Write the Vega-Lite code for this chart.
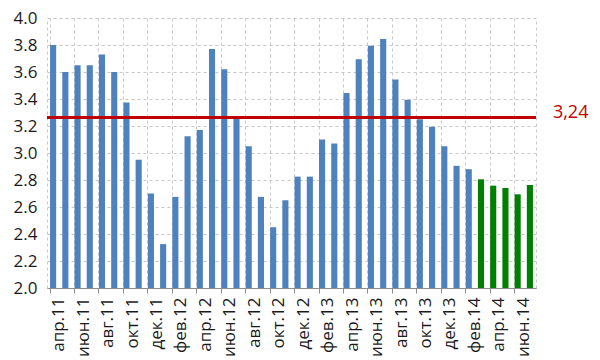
{
  "$schema": "https://vega.github.io/schema/vega-lite/v6.json",
  "width": 489,
  "height": 270,
  "autosize": {"type": "none"},
  "padding": {"left": 47, "top": 18, "right": 64, "bottom": 72},
  "background": "white",
  "config": {
    "font": "Open Sans",
    "view": {"stroke": "#C8C8C8", "strokeDash": [3, 3], "strokeWidth": 1},
    "axis": {"gridColor": "#C8C8C8", "gridDash": [3, 3], "gridWidth": 1, "labelColor": "#1A1A1A", "labelFont": "Open Sans", "labelOverlap": false}
  },
  "data": {
    "values": [
      {"month": "апр.11", "value": 3.80, "kind": "факт"},
      {"month": "май.11", "value": 3.60, "kind": "факт"},
      {"month": "июн.11", "value": 3.65, "kind": "факт"},
      {"month": "июл.11", "value": 3.65, "kind": "факт"},
      {"month": "авг.11", "value": 3.73, "kind": "факт"},
      {"month": "сен.11", "value": 3.60, "kind": "факт"},
      {"month": "окт.11", "value": 3.375, "kind": "факт"},
      {"month": "ноя.11", "value": 2.95, "kind": "факт"},
      {"month": "дек.11", "value": 2.70, "kind": "факт"},
      {"month": "янв.12", "value": 2.325, "kind": "факт"},
      {"month": "фев.12", "value": 2.675, "kind": "факт"},
      {"month": "мар.12", "value": 3.125, "kind": "факт"},
      {"month": "апр.12", "value": 3.17, "kind": "факт"},
      {"month": "май.12", "value": 3.77, "kind": "факт"},
      {"month": "июн.12", "value": 3.62, "kind": "факт"},
      {"month": "июл.12", "value": 3.26, "kind": "факт"},
      {"month": "авг.12", "value": 3.05, "kind": "факт"},
      {"month": "сен.12", "value": 2.675, "kind": "факт"},
      {"month": "окт.12", "value": 2.45, "kind": "факт"},
      {"month": "ноя.12", "value": 2.65, "kind": "факт"},
      {"month": "дек.12", "value": 2.825, "kind": "факт"},
      {"month": "янв.13", "value": 2.825, "kind": "факт"},
      {"month": "фев.13", "value": 3.10, "kind": "факт"},
      {"month": "мар.13", "value": 3.07, "kind": "факт"},
      {"month": "апр.13", "value": 3.445, "kind": "факт"},
      {"month": "май.13", "value": 3.695, "kind": "факт"},
      {"month": "июн.13", "value": 3.795, "kind": "факт"},
      {"month": "июл.13", "value": 3.845, "kind": "факт"},
      {"month": "авг.13", "value": 3.545, "kind": "факт"},
      {"month": "сен.13", "value": 3.395, "kind": "факт"},
      {"month": "окт.13", "value": 3.25, "kind": "факт"},
      {"month": "ноя.13", "value": 3.195, "kind": "факт"},
      {"month": "дек.13", "value": 3.05, "kind": "факт"},
      {"month": "янв.14", "value": 2.905, "kind": "факт"},
      {"month": "фев.14", "value": 2.88, "kind": "факт"},
      {"month": "мар.14", "value": 2.805, "kind": "прогноз"},
      {"month": "апр.14", "value": 2.758, "kind": "прогноз"},
      {"month": "май.14", "value": 2.741, "kind": "прогноз"},
      {"month": "июн.14", "value": 2.694, "kind": "прогноз"},
      {"month": "июл.14", "value": 2.763, "kind": "прогноз"}
    ]
  },
  "encoding": {
    "x": {
      "field": "month", "type": "nominal", "sort": null,
      "scale": {"paddingInner": 0.5, "paddingOuter": 0.25},
      "axis": {
        "title": null,
        "values": ["апр.11", "июн.11", "авг.11", "окт.11", "дек.11", "фев.12", "апр.12", "июн.12", "авг.12", "окт.12", "дек.12", "фев.13", "апр.13", "июн.13", "авг.13", "окт.13", "дек.13", "фев.14", "апр.14", "июн.14"],
        "bandPosition": 0,
        "labelOffset": 6.1,
        "labelAngle": -90,
        "labelAlign": "right",
        "labelBaseline": "middle",
        "labelPadding": 4,
        "labelFontSize": 17,
        "labelOverlap": false,
        "tickSize": 5,
        "tickColor": "#8C8C8C",
        "domainColor": "#8C8C8C",
        "grid": true
      }
    },
    "y": {
      "field": "value", "type": "quantitative",
      "scale": {"domain": [2, 4], "nice": false, "zero": false},
      "axis": {
        "title": null,
        "values": [2, 2.2, 2.4, 2.6, 2.8, 3, 3.2, 3.4, 3.6, 3.8, 4],
        "format": ".1f",
        "domain": false,
        "ticks": false,
        "labelPadding": 10,
        "labelFontSize": 17,
        "labelOverlap": false,
        "labelFlush": false,
        "grid": true
      }
    }
  },
  "layer": [
    {
      "mark": {"type": "bar"},
      "encoding": {
        "y2": {"datum": 2},
        "color": {
          "field": "kind", "type": "nominal",
          "scale": {"domain": ["факт", "прогноз"], "range": ["#4F81BD", "#008000"]},
          "legend": null
        }
      }
    },
    {
      "mark": {"type": "rule", "color": "#C00000", "strokeWidth": 2.5},
      "encoding": {"x": null, "y": {"datum": 3.265}}
    },
    {
      "transform": [{"filter": "datum.month == 'июл.14'"}],
      "mark": {"type": "text", "align": "left", "baseline": "middle", "dx": 23, "dy": -4, "color": "#C00000", "fontSize": 18, "font": "Open Sans"},
      "encoding": {
        "y": {"datum": 3.265},
        "text": {"value": "3,24"}
      }
    }
  ]
}
